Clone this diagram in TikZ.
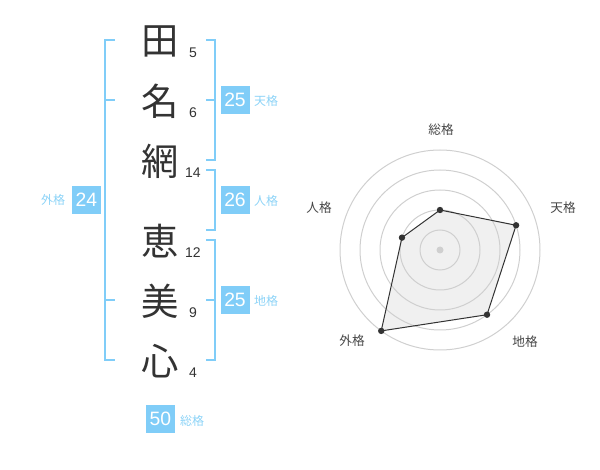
\documentclass[tikz,border=0pt]{standalone}
\usepackage{fontspec}
\setmainfont{Liberation Sans}
\newfontfamily\jpfont{Noto Sans CJK JP}
\usetikzlibrary{calc}
\definecolor{kakublue}{HTML}{80CDF8}
\definecolor{namblue}{HTML}{8CD3F7}
\definecolor{sumigray}{HTML}{333333}
\definecolor{ringgray}{HTML}{CFCFCF}

\begin{document}
\begin{tikzpicture}[x=0.75pt, y=-0.75pt,
    kanji/.style={font=\jpfont\fontsize{28}{28}\selectfont, text=sumigray, inner sep=0pt},
    kakusu/.style={font=\fontsize{10.5}{12}\selectfont, text=sumigray, inner sep=0pt},
    scorebox/.style={fill=kakublue, text=white, font=\fontsize{14.5}{15}\selectfont,
        minimum width=21.75pt, minimum height=21pt, inner sep=0pt},
    kakuname/.style={font=\jpfont\fontsize{9}{10}\selectfont, text=namblue, inner sep=0pt},
    bracket/.style={kakublue, line width=1.5pt},
    axisname/.style={font=\jpfont\fontsize{9.5}{10}\selectfont, text=sumigray!90, inner sep=0pt}]
    \useasboundingbox (0,0) rectangle (600,470);

    % --- 名前の文字と画数 ---
    \foreach \i/\ch/\yy/\n in {1/田/41/5, 2/名/101/6, 3/網/161/14,
                               4/恵/241/12, 5/美/301/9, 6/心/361/4} {
        \node[kanji] (k\i) at (160,\yy) {\ch};
        \node[kakusu] (n\i) at (193,\yy+12) {\n};
    }

    % --- 外格 (左の括弧) ---
    \draw[bracket] (115,40) -- (105,40) -- (105,360) -- (115,360);
    \foreach \ypos in {100, 300} {
        \draw[bracket] (105,\ypos) -- (115,\ypos);
    }
    \node[scorebox] (gai) at (86.5,200) {24};
    \node[kakuname] (gai-name) at (53,200) {外格};

    % --- 天格・人格・地格 (右の括弧) ---
    \draw[bracket] (206,40) -- (215,40) -- (215,160) -- (206,160);
    \draw[bracket] (206,100) -- (215,100);
    \draw[bracket] (206,170) -- (215,170) -- (215,230) -- (206,230);
    \draw[bracket] (206,240) -- (215,240) -- (215,360) -- (206,360);
    \draw[bracket] (206,300) -- (215,300);
    \foreach \name/\val/\lbl/\ypos in {ten/25/天格/100, jin/26/人格/200, chi/25/地格/300} {
        \node[scorebox] (\name) at (235,\ypos) {\val};
        \node[kakuname] (\name-name) at (266,\ypos+1) {\lbl};
    }

    % --- 総格 ---
    \node[scorebox] (sou) at (160.5,419) {50};
    \node[kakuname] (sou-name) at (192,421) {総格};

    % --- レーダーチャート ---
    \coordinate (c) at (440,250);
    \foreach \ang/\r/\name in {-90/40/sou, -18/80/ten, 54/80/chi, 126/100/gai, 198/40/jin} {
        \coordinate (p-\name) at ($(c)+(\ang:\r)$);
    }
    \fill[gray!12] (p-sou) -- (p-ten) -- (p-chi) -- (p-gai) -- (p-jin) -- cycle;
    \foreach \r in {20, 40, 60, 80, 100} {
        \draw[ringgray, line width=0.75pt] (c) circle[radius=\r];
    }
    \fill[ringgray] (c) circle[radius=3.5];
    \draw[sumigray, line width=0.75pt] (p-sou) -- (p-ten) -- (p-chi) -- (p-gai) -- (p-jin) -- cycle;
    \foreach \name in {sou, ten, chi, gai, jin} {
        \fill[sumigray] (p-\name) circle[radius=3.2];
    }

    % 軸のラベル
    \foreach \name/\lbl/\xpos/\ypos in {sou/総格/441/130, ten/天格/563/208, chi/地格/525/342,
                                        gai/外格/352/341, jin/人格/319/208} {
        \node[axisname] (ax-\name) at (\xpos,\ypos) {\lbl};
    }
\end{tikzpicture}
\end{document}
